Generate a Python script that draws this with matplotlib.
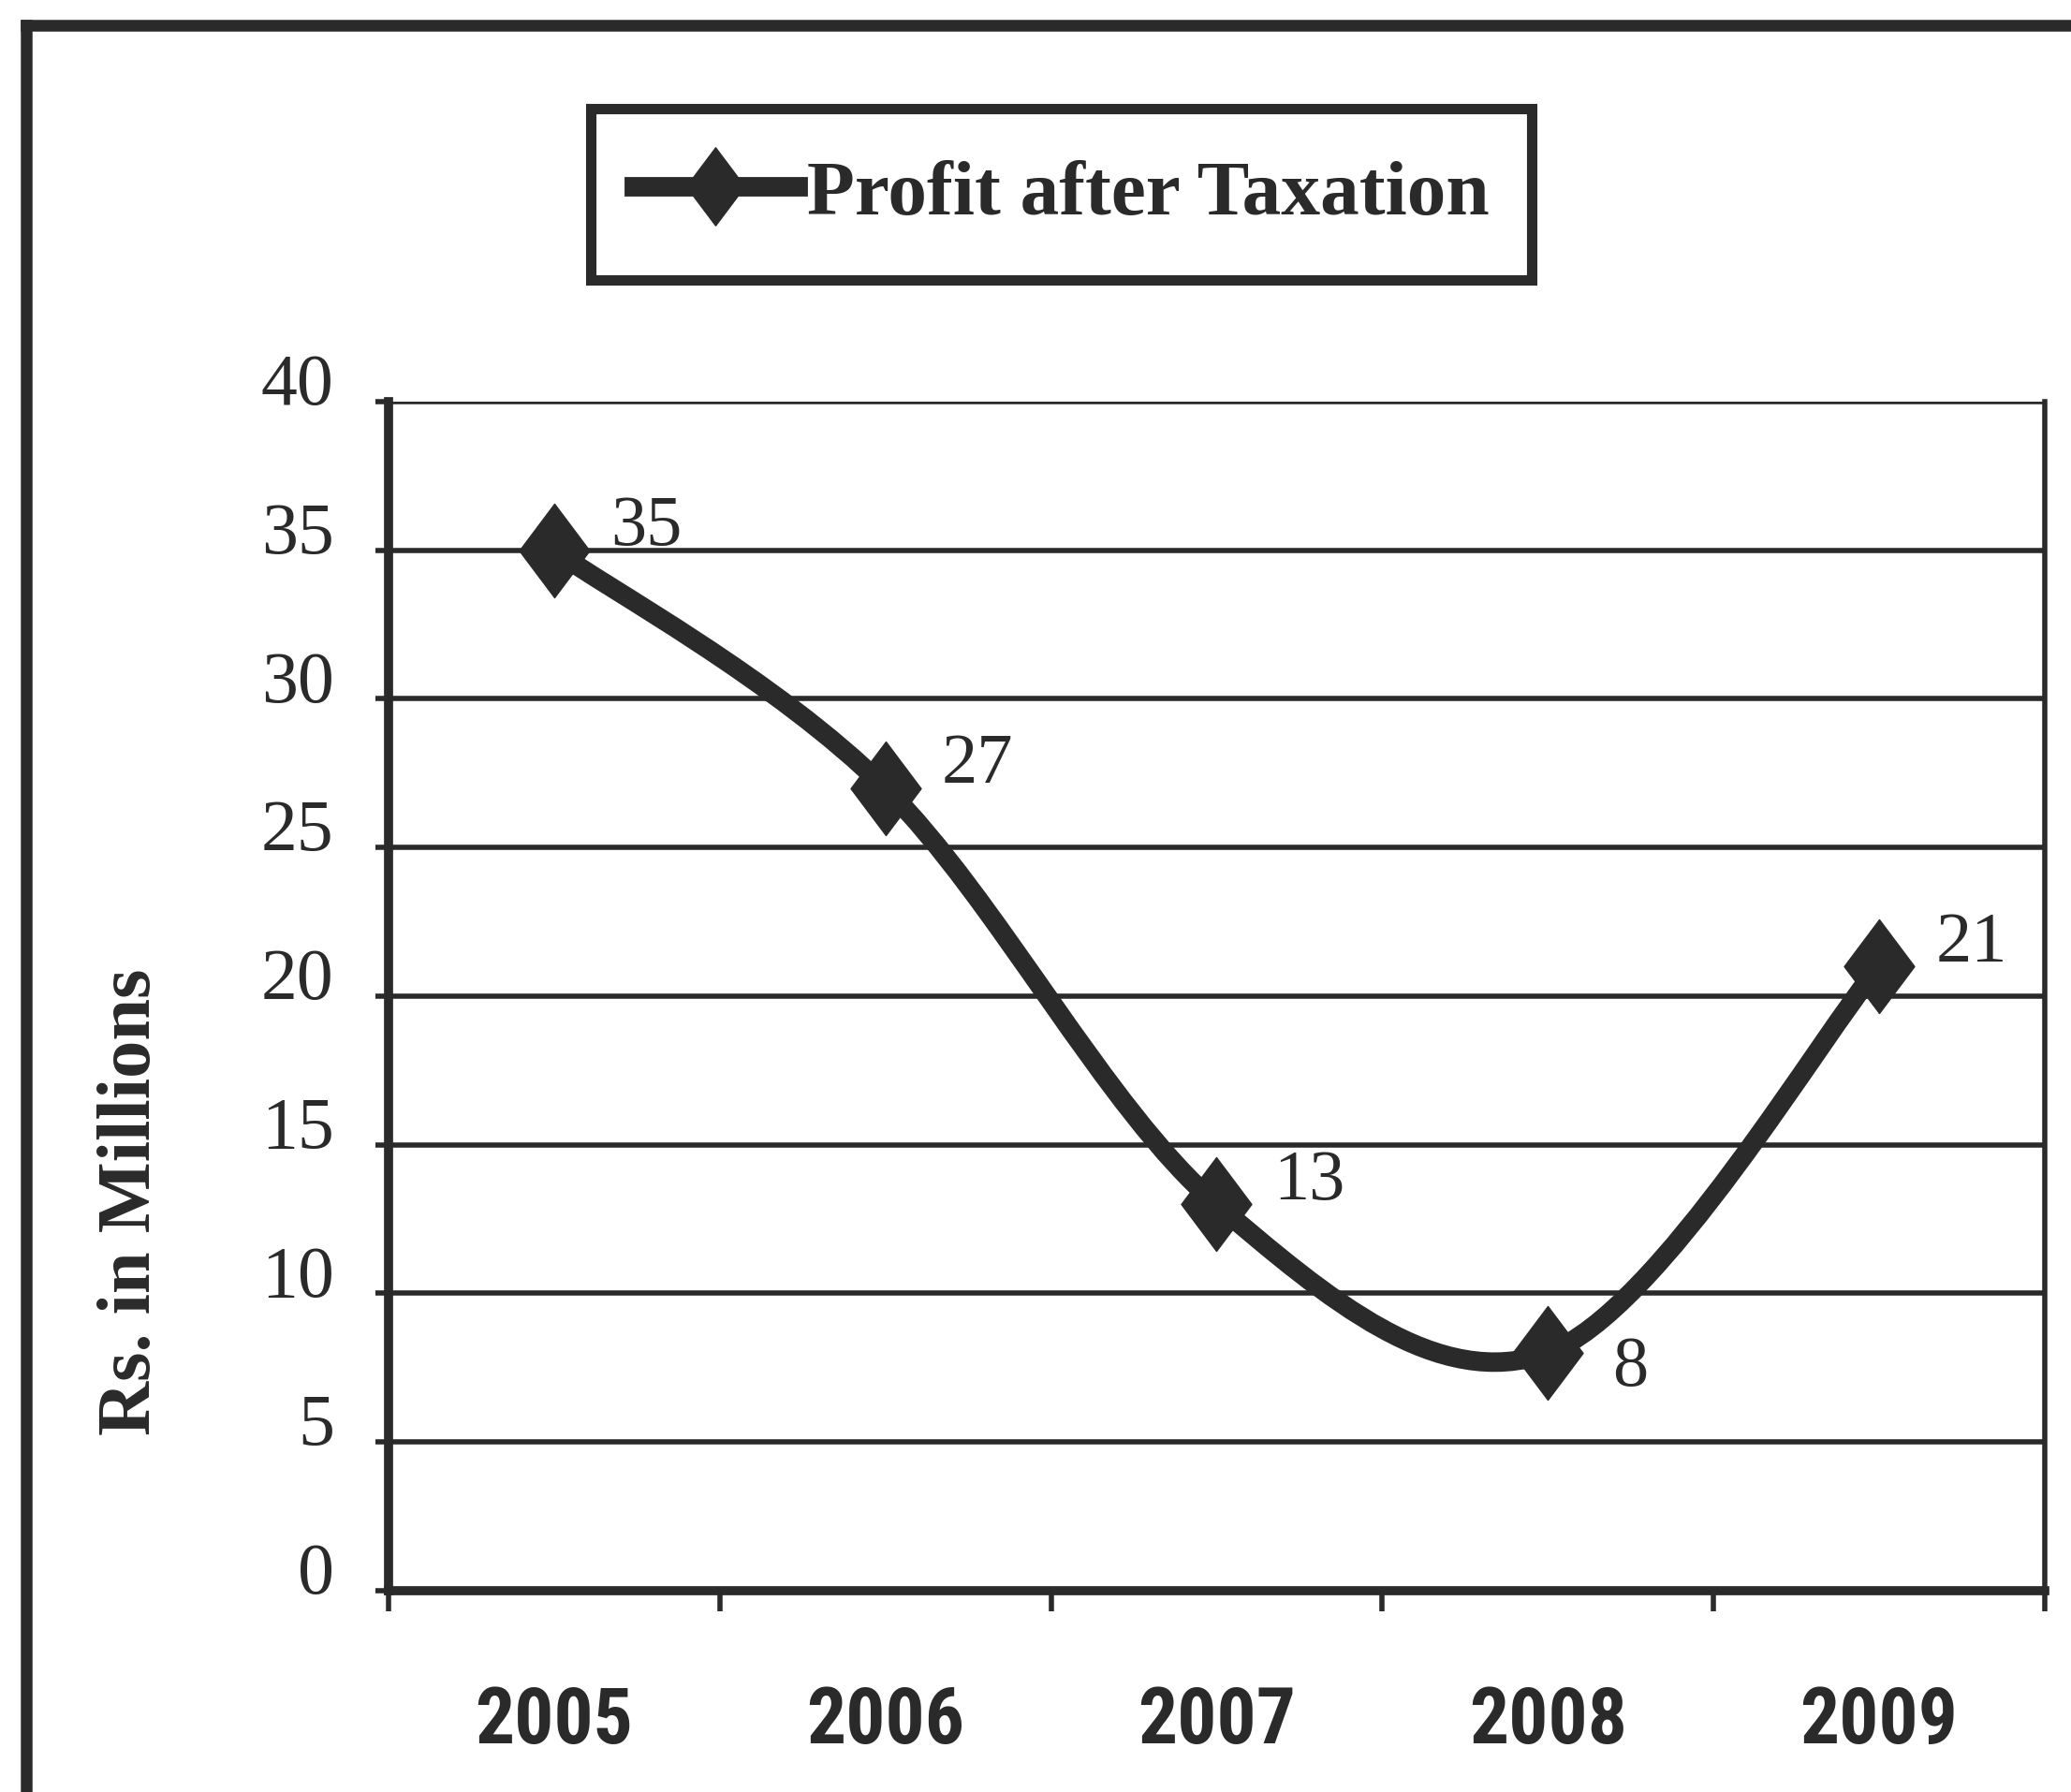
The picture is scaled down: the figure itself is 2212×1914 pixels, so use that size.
import matplotlib
matplotlib.use("Agg")
import matplotlib.pyplot as plt
from matplotlib.path import Path
from matplotlib.patches import PathPatch, Rectangle
from matplotlib.lines import Line2D
from matplotlib import font_manager
import matplotlib.transforms as mtransforms

# ---- data ----
years = ["2005", "2006", "2007", "2008", "2009"]
profit = [35, 27, 13, 8, 21]
label_offsets = [(71, 18), (71, 18), (71, 18), (63, -11), (71, 18)]  # points
y_ticks = [0, 5, 10, 15, 20, 25, 30, 35, 40]
series_name = "Profit after Taxation"
y_title = "Rs. in Millions"

INK = "#2a2a2a"
SERIF = ["Liberation Serif", "DejaVu Serif"]


def have(name):
    try:
        font_manager.findfont(font_manager.FontProperties(family=name),
                              fallback_to_default=False)
        return True
    except Exception:
        return False


# narrow bold face for the year labels
if have("Roboto Condensed"):
    YEAR_FONT, YEAR_SIZE = ["Roboto Condensed"], 60
elif have("Liberation Sans Narrow"):
    YEAR_FONT, YEAR_SIZE = ["Liberation Sans Narrow"], 61
else:
    YEAR_FONT, YEAR_SIZE = ["Liberation Sans"], 52

fig = plt.figure(figsize=(22.12, 19.15), dpi=100)
fig.patch.set_facecolor("white")
ax = fig.add_axes([0.1876, 0.1123, 0.7997, 0.6632])

n = len(years)
xs = [i + 0.5 for i in range(n)]

ax.set_xlim(0, n)
ax.set_ylim(0, 40)

# horizontal gridlines
for v in y_ticks[1:]:
    ax.axhline(v, color=INK, lw=4, zorder=1)

# smoothed line through the points (Catmull-Rom style cubic Bezier)
pts = list(zip(xs, profit))
verts = [pts[0]]
codes = [Path.MOVETO]
for i in range(len(pts) - 1):
    p0 = pts[i - 1] if i > 0 else pts[i]
    p1 = pts[i]
    p2 = pts[i + 1]
    p3 = pts[i + 2] if i + 2 < len(pts) else pts[i + 1]
    c1 = (p1[0] + (p2[0] - p0[0]) / 6, p1[1] + (p2[1] - p0[1]) / 6)
    c2 = (p2[0] - (p3[0] - p1[0]) / 6, p2[1] - (p3[1] - p1[1]) / 6)
    verts += [c1, c2, p2]
    codes += [Path.CURVE4] * 3
curve = PathPatch(Path(verts, codes), facecolor="none", edgecolor=INK,
                  lw=15, capstyle="round", joinstyle="round", zorder=3)
ax.add_patch(curve)

diamond = Path([(0, 1), (0.75, 0), (0, -1), (-0.75, 0), (0, 1)],
               [Path.MOVETO, Path.LINETO, Path.LINETO, Path.LINETO, Path.CLOSEPOLY])
ax.plot(xs, profit, linestyle="none", marker=diamond, markersize=72,
        color=INK, markeredgecolor=INK, zorder=4)

# value labels
for x, v, off in zip(xs, profit, label_offsets):
    ax.annotate(str(v), (x, v), xytext=off, textcoords="offset points",
                ha="center", va="center", fontsize=55, family=SERIF,
                color=INK, zorder=5)

# axes styling
for side in ["left", "bottom"]:
    ax.spines[side].set_linewidth(7)
    ax.spines[side].set_color(INK)
ax.spines["right"].set_linewidth(4)
ax.spines["right"].set_color(INK)
ax.spines["top"].set_visible(False)

ax.set_yticks(y_ticks)
ax.set_yticklabels([str(t) for t in y_ticks], fontsize=56, family=SERIF, color=INK)
ax.tick_params(axis="y", length=10, width=4, color=INK, pad=32)
shift = mtransforms.ScaledTranslation(0, 18 / 72, fig.dpi_scale_trans)
for lab in ax.get_yticklabels():
    lab.set_transform(lab.get_transform() + shift)

ax.set_xticks(range(n + 1))
ax.set_xticklabels([])
ax.tick_params(axis="x", which="major", length=16, width=4, color=INK)
ax.set_xticks(xs, minor=True)
ax.set_xticklabels(years, minor=True, fontsize=YEAR_SIZE, fontweight="bold",
                   family=YEAR_FONT, color=INK)
ax.tick_params(axis="x", which="minor", length=0, pad=72)

# y-axis title
fig.text(0.0637, 0.3295, y_title, rotation=90, ha="center", va="center",
         fontsize=58, fontweight="bold", family=SERIF, color=INK)

# legend box
fig.add_artist(Rectangle((0.2853, 0.8433), 0.4543, 0.0956, transform=fig.transFigure,
                         facecolor="white", edgecolor=INK, lw=8, zorder=2))
handle = Line2D([], [], color=INK, lw=15, marker=diamond, markersize=60,
                markeredgecolor=INK)
leg = fig.legend([handle], [series_name], loc="center",
                 bbox_to_anchor=(0.5124, 0.8911), frameon=False,
                 handlelength=2.1, handletextpad=0.12,
                 prop={"family": SERIF, "weight": "bold", "size": 60})
leg.set_zorder(3)
for t in leg.get_texts():
    t.set_color(INK)

# outer frame
fig.add_artist(Line2D([0.0127, 1.0], [0.9854, 0.9854], transform=fig.transFigure,
                      color=INK, lw=9))
fig.add_artist(Line2D([0.0127, 0.0127], [0.0, 0.9854], transform=fig.transFigure,
                      color=INK, lw=9))

fig.savefig("out.png", dpi=100)
